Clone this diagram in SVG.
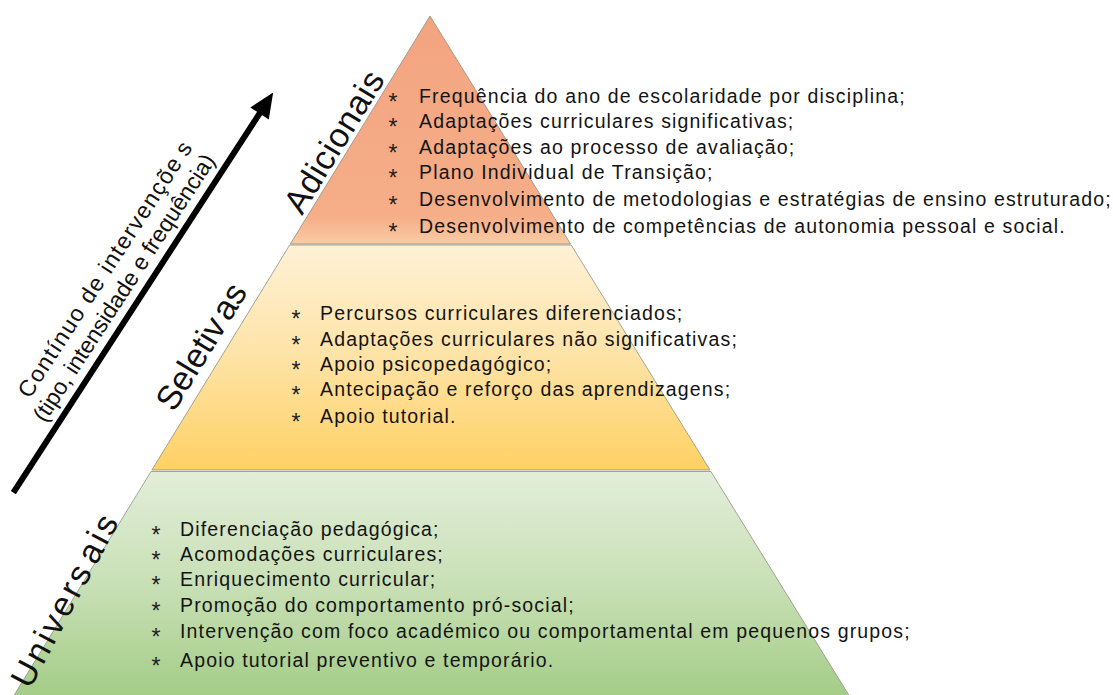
<svg xmlns="http://www.w3.org/2000/svg" width="1113" height="695" viewBox="0 0 1113 695">
<defs>
<linearGradient id="gOrange" gradientUnits="userSpaceOnUse" x1="0" y1="16" x2="0" y2="244">
<stop offset="0" stop-color="#F3A480"/>
<stop offset="0.88" stop-color="#F5AE88"/>
<stop offset="1" stop-color="#F9CBA4"/>
</linearGradient>
<linearGradient id="gYellow" gradientUnits="userSpaceOnUse" x1="0" y1="245" x2="0" y2="470">
<stop offset="0" stop-color="#FEF1D6"/>
<stop offset="0.5" stop-color="#FEE3A6"/>
<stop offset="1" stop-color="#FFD164"/>
</linearGradient>
<linearGradient id="gGreen" gradientUnits="userSpaceOnUse" x1="0" y1="471" x2="0" y2="695">
<stop offset="0" stop-color="#E3EEDA"/>
<stop offset="0.5" stop-color="#C9E0B6"/>
<stop offset="1" stop-color="#A4CD88"/>
</linearGradient>
</defs>
<style>
.tier{stroke:#8f8f84;stroke-width:0.8}
.item{font-family:"Liberation Sans",Arial,sans-serif;font-size:19.5px;letter-spacing:1.15px;fill:#141414}
.bul{font-family:"Liberation Sans",Arial,sans-serif;font-size:23px;fill:#222;text-anchor:middle}
.lbl{font-family:"Liberation Sans",Arial,sans-serif;font-size:34px;fill:#111}
.axis{font-family:"Liberation Sans",Arial,sans-serif;font-size:23px;fill:#111;text-anchor:middle}
</style>
<rect width="1113" height="695" fill="#ffffff"/>

<g id="tier-adicionais">
<polygon class="tier" points="430,16 570.6,244 290.3,244" fill="url(#gOrange)"/>
<text class="lbl" transform="translate(302,216) rotate(-58.5)" textLength="160" lengthAdjust="spacing">Adicionais</text>
<g>
<text class="bul" x="393" y="110">*</text>
<text class="bul" x="393" y="135">*</text>
<text class="bul" x="393" y="161">*</text>
<text class="bul" x="393" y="186">*</text>
<text class="bul" x="393" y="213">*</text>
<text class="bul" x="393" y="240">*</text>
<text class="item" x="419" y="103">Frequência do ano de escolaridade por disciplina;</text>
<text class="item" x="419" y="128">Adaptações curriculares significativas;</text>
<text class="item" x="419" y="154">Adaptações ao processo de avaliação;</text>
<text class="item" x="419" y="179">Plano Individual de Transição;</text>
<text class="item" x="419" y="206">Desenvolvimento de metodologias e estratégias de ensino estruturado;</text>
<text class="item" x="419" y="233">Desenvolvimento de competências de autonomia pessoal e social.</text>
</g>
</g>

<g id="tier-seletivas">
<polygon class="tier" points="289.7,245 571.2,245 710,470 151.9,470" fill="url(#gYellow)"/>
<text class="lbl" transform="translate(174,413) rotate(-58.5)" textLength="142" lengthAdjust="spacing">Seletiv<tspan dx="4">as</tspan></text>
<g>
<text class="bul" x="296" y="327">*</text>
<text class="bul" x="296" y="353">*</text>
<text class="bul" x="296" y="378">*</text>
<text class="bul" x="296" y="403">*</text>
<text class="bul" x="296" y="430">*</text>
<text class="item" x="320" y="320">Percursos curriculares diferenciados;</text>
<text class="item" x="320" y="346">Adaptações curriculares não significativas;</text>
<text class="item" x="320" y="371">Apoio psicopedagógico;</text>
<text class="item" x="320" y="396">Antecipação e reforço das aprendizagens;</text>
<text class="item" x="320" y="423">Apoio tutorial.</text>
</g>
</g>

<g id="tier-universais">
<polygon class="tier" points="151,471.5 710.9,471.5 850,697 13,697" fill="url(#gGreen)"/>
<text class="lbl" transform="translate(30,690) rotate(-62)" textLength="190" lengthAdjust="spacing">Univers<tspan dx="4">ais</tspan></text>
<g>
<text class="bul" x="156" y="543">*</text>
<text class="bul" x="156" y="568">*</text>
<text class="bul" x="156" y="593">*</text>
<text class="bul" x="156" y="619">*</text>
<text class="bul" x="156" y="645">*</text>
<text class="bul" x="156" y="674">*</text>
<text class="item" x="180" y="536">Diferenciação pedagógica;</text>
<text class="item" x="180" y="561">Acomodações curriculares;</text>
<text class="item" x="180" y="586">Enriquecimento curricular;</text>
<text class="item" x="180" y="612">Promoção do comportamento pró-social;</text>
<text class="item" x="180" y="638">Intervenção com foco académico ou comportamental em pequenos grupos;</text>
<text class="item" x="180" y="667">Apoio tutorial preventivo e temporário.</text>
</g>
</g>

<g id="connectors">
<g id="axis-arrow" transform="translate(15,490) rotate(-57)">
<line x1="-3" y1="0" x2="453" y2="0" stroke="#000" stroke-width="6"/>
<polygon points="449,-11 474,0 449,11" fill="#000"/>
</g>
</g>

<g id="axis-label" transform="translate(15,490) rotate(-57)">
<text class="axis" x="234" y="-37" textLength="300" lengthAdjust="spacing">Contínuo de intervençõe<tspan dx="6">s</tspan></text>
<text class="axis" x="229" y="-11" textLength="314" lengthAdjust="spacing">(tipo, intensidade e frequência)</text>
</g>
</svg>
